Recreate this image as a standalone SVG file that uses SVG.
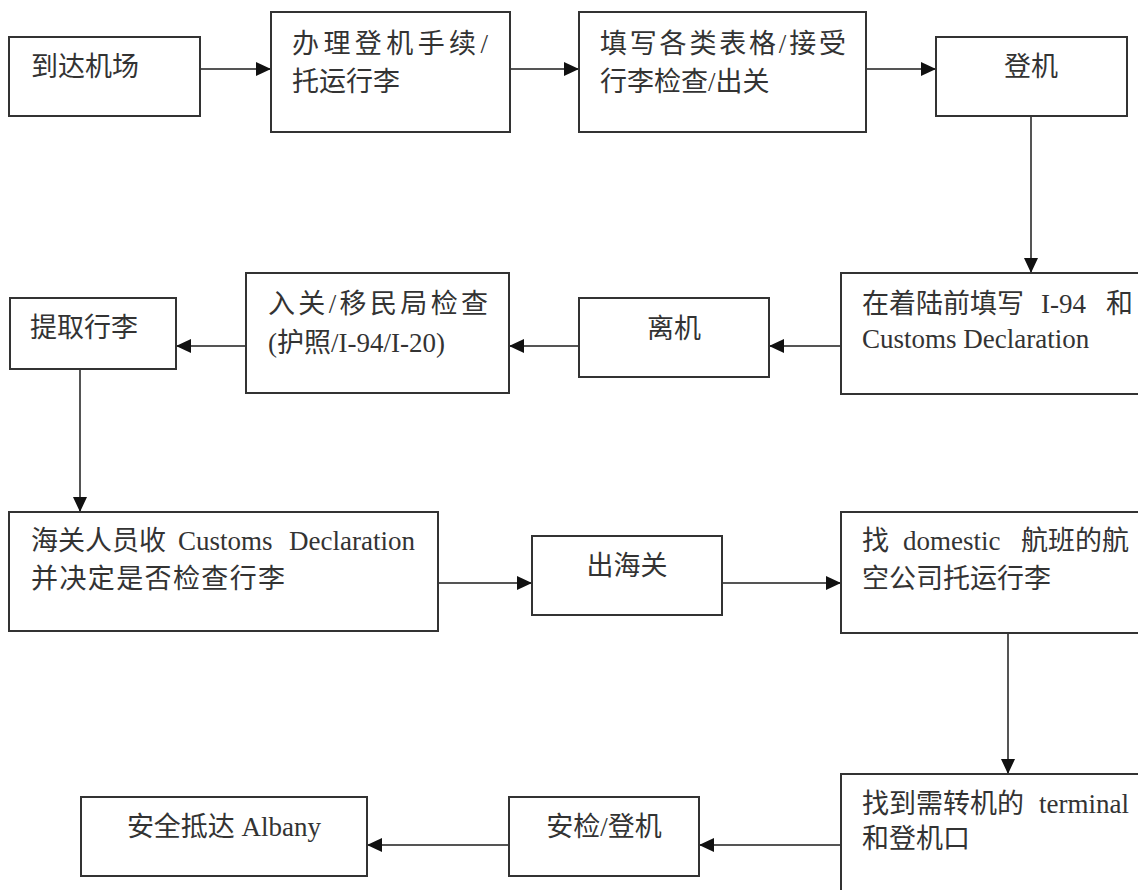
<svg xmlns="http://www.w3.org/2000/svg" width="1138" height="890" viewBox="0 0 1138 890">
  <style>
    .box { fill: #ffffff; stroke: #333333; stroke-width: 2; }
    .t { font-family: "Liberation Serif", "Noto Sans CJK SC", serif; font-size: 27px; fill: #333333; }
    .c { text-anchor: middle; }
    .conn { stroke: #555555; stroke-width: 2; fill: none; marker-end: url(#arrow); }
  </style>
  <defs>
    <marker id="arrow" markerUnits="userSpaceOnUse" markerWidth="15" markerHeight="14" refX="15" refY="7" orient="auto">
      <path d="M0,0 L15,7 L0,14 z" fill="#111111"/>
    </marker>
  </defs>
  <rect x="0" y="0" width="1138" height="890" fill="#ffffff"/>

  <g id="connectors">
    <line class="conn" x1="200" y1="69" x2="271" y2="69"/>
    <line class="conn" x1="510" y1="69" x2="579" y2="69"/>
    <line class="conn" x1="866" y1="69" x2="936" y2="69"/>
    <line class="conn" x1="1031" y1="116" x2="1031" y2="273"/>
    <line class="conn" x1="841" y1="346" x2="769" y2="346"/>
    <line class="conn" x1="579" y1="346" x2="509" y2="346"/>
    <line class="conn" x1="246" y1="346" x2="176" y2="346"/>
    <line class="conn" x1="80" y1="369" x2="80" y2="512"/>
    <line class="conn" x1="438" y1="583" x2="532" y2="583"/>
    <line class="conn" x1="722" y1="583" x2="841" y2="583"/>
    <line class="conn" x1="1008" y1="633" x2="1008" y2="774"/>
    <line class="conn" x1="841" y1="845" x2="699" y2="845"/>
    <line class="conn" x1="509" y1="845" x2="367" y2="845"/>
  </g>

  <g id="node-arrive">
    <rect class="box" x="9" y="37" width="191" height="79"/>
    <text class="t" x="31" y="76">到达机场</text>
  </g>
  <g id="node-checkin">
    <rect class="box" x="271" y="12" width="239" height="120"/>
    <text class="t" x="292" y="53" textLength="196" lengthAdjust="spacing">办理登机手续/</text>
    <text class="t" x="292" y="91">托运行李</text>
  </g>
  <g id="node-forms">
    <rect class="box" x="579" y="12" width="287" height="120"/>
    <text class="t" x="600" y="53" textLength="246" lengthAdjust="spacing">填写各类表格/接受</text>
    <text class="t" x="600" y="91">行李检查/出关</text>
  </g>
  <g id="node-board">
    <rect class="box" x="936" y="37" width="191" height="79"/>
    <text class="t c" x="1031" y="76">登机</text>
  </g>
  <g id="node-i94">
    <rect class="box" x="841" y="273" width="320" height="121"/>
    <text class="t" y="313"><tspan x="862">在着陆前填写</tspan><tspan x="1041">I-94</tspan><tspan x="1106">和</tspan></text>
    <text class="t" x="862" y="348">Customs Declaration</text>
  </g>
  <g id="node-deplane">
    <rect class="box" x="579" y="298" width="190" height="79"/>
    <text class="t c" x="674" y="338">离机</text>
  </g>
  <g id="node-immigration">
    <rect class="box" x="246" y="273" width="263" height="120"/>
    <text class="t" x="268" y="313" textLength="220" lengthAdjust="spacing">入关/移民局检查</text>
    <text class="t" x="268" y="352">(护照/I-94/I-20)</text>
  </g>
  <g id="node-baggage">
    <rect class="box" x="10" y="298" width="166" height="71"/>
    <text class="t" x="30" y="337">提取行李</text>
  </g>
  <g id="node-customs">
    <rect class="box" x="9" y="512" width="429" height="119"/>
    <text class="t" y="550"><tspan x="31">海关人员收</tspan><tspan x="178">Customs</tspan><tspan x="289">Declaration</tspan></text>
    <text class="t" x="31" y="588" textLength="254" lengthAdjust="spacing">并决定是否检查行李</text>
  </g>
  <g id="node-exit">
    <rect class="box" x="532" y="536" width="190" height="79"/>
    <text class="t c" x="627" y="575">出海关</text>
  </g>
  <g id="node-domestic">
    <rect class="box" x="841" y="512" width="320" height="121"/>
    <text class="t" y="550"><tspan x="862">找</tspan><tspan x="903">domestic</tspan><tspan x="1021">航班的航</tspan></text>
    <text class="t" x="862" y="588">空公司托运行李</text>
  </g>
  <g id="node-terminal">
    <rect class="box" x="841" y="774" width="320" height="140"/>
    <text class="t" y="813"><tspan x="862">找到需转机的</tspan><tspan x="1039">terminal</tspan></text>
    <text class="t" x="862" y="848">和登机口</text>
  </g>
  <g id="node-security">
    <rect class="box" x="509" y="797" width="190" height="79"/>
    <text class="t c" x="604" y="836">安检/登机</text>
  </g>
  <g id="node-albany">
    <rect class="box" x="81" y="797" width="286" height="79"/>
    <text class="t c" x="224" y="836">安全抵达 Albany</text>
  </g>
</svg>
